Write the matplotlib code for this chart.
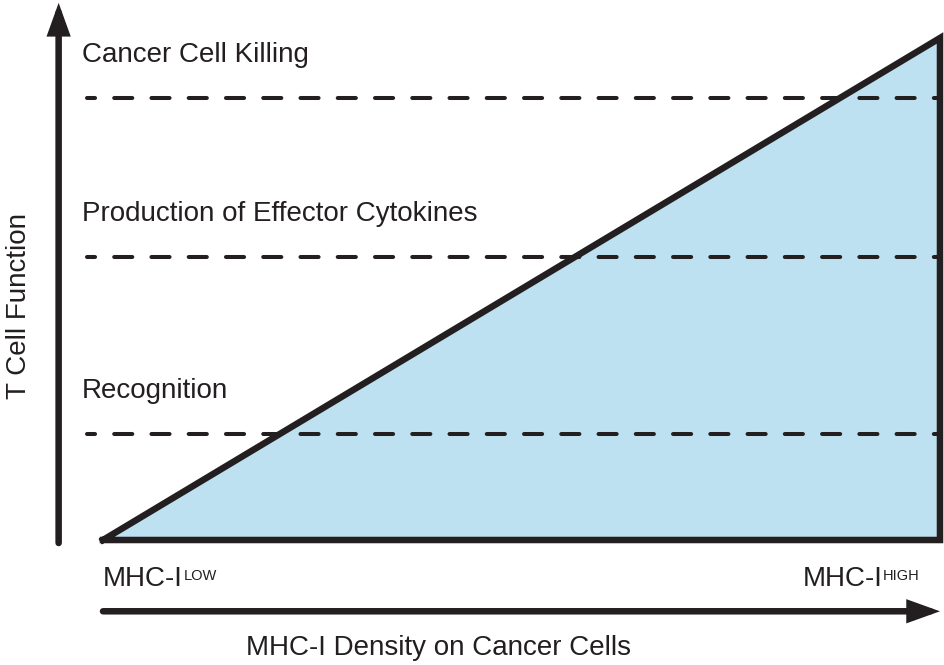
import matplotlib
matplotlib.use("Agg")
import matplotlib.pyplot as plt

plt.rcParams["font.family"] = ["Liberation Sans", "DejaVu Sans"]

# ── Data ──────────────────────────────────────────────────────────────────────
# MHC-I density (0 = low, 1 = high) and relative T cell function
density = [0.0, 1.0]
t_cell_function = [0.0, 1.0]

# function levels needed for each response
thresholds = [0.211, 0.564, 0.880]
threshold_labels = ["Recognition", "Production of Effector Cytokines",
                    "Cancer Cell Killing"]
end_labels = ["LOW", "HIGH"]

INK = "#231f20"
FILL = "#bee1f1"

# ── Figure ────────────────────────────────────────────────────────────────────
fig = plt.figure(figsize=(9.45, 6.65), dpi=100)
ax = fig.add_axes([0, 0, 1, 1])
ax.set_xlim(-103 / 837, 842 / 837)
ax.set_ylim(-125 / 502, 540 / 502)
ax.axis("off")

# shaded triangle
ax.fill_between(density, [0, 0], t_cell_function, color=FILL, lw=0, zorder=1)

# threshold lines + labels
for level, label in zip(thresholds, threshold_labels):
    ax.plot([-0.019, density[1]], [level, level], color=INK, lw=2.9,
            linestyle=(2.5, (4.5, 4.75)), dash_capstyle="round", zorder=2)
    ax.annotate(label, xy=(-0.025, level), xytext=(0, 26),
                textcoords="offset points", fontsize=20, color=INK,
                ha="left", va="baseline")

# triangle outline
ax.plot([density[0], density[1], density[1], density[0]],
        [t_cell_function[0], t_cell_function[1], t_cell_function[0], t_cell_function[0]],
        color=INK, lw=4.7, solid_joinstyle="miter", solid_capstyle="projecting",
        zorder=3)

# axis arrows
arrow_kw = dict(arrowstyle="-|>,head_length=0.75,head_width=0.27",
                mutation_scale=20, lw=4.7, color=INK, shrinkA=0, shrinkB=0,
                capstyle="round", joinstyle="miter")
ax.annotate("", xy=(-0.053, 1.070), xytext=(-0.053, -0.006), arrowprops=arrow_kw)
ax.annotate("", xy=(1.0, -0.142), xytext=(0.0, -0.142), arrowprops=arrow_kw)

# axis titles
ax.text(0.401, -0.229, "MHC-I Density on Cancer Cells", fontsize=20, color=INK,
        ha="center", va="baseline")
ax.text(-0.100, 0.466, "T Cell Function", fontsize=20, color=INK,
        rotation=90, ha="center", va="center")

# MHC-I low / high end labels with small superscripts
t_low = ax.text(0.0, -0.0916, "MHC-I", fontsize=20, color=INK,
                ha="left", va="baseline")
ax.annotate(end_labels[0], xy=(1, 1), xycoords=t_low, xytext=(0.5, -2),
            textcoords="offset points", fontsize=10.5, color=INK,
            ha="left", va="top")
t_high = ax.text(0.931, -0.0916, "MHC-I", fontsize=20, color=INK,
                 ha="right", va="baseline")
ax.annotate(end_labels[1], xy=(1, 1), xycoords=t_high, xytext=(0.5, -2),
            textcoords="offset points", fontsize=10.5, color=INK,
            ha="left", va="top")

fig.savefig("out.png", dpi=100)
